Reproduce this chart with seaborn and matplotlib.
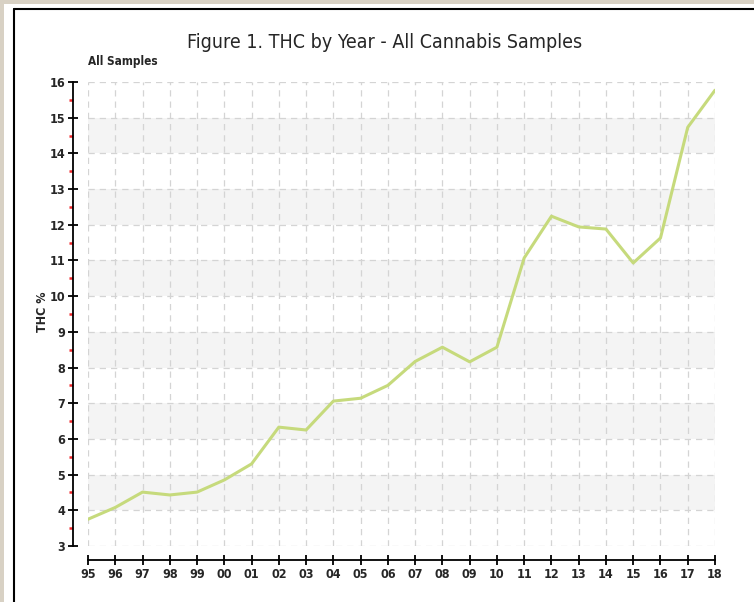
import matplotlib
matplotlib.use("Agg")
import matplotlib.pyplot as plt
from matplotlib.lines import Line2D
from matplotlib.patches import Rectangle
from matplotlib.ticker import MultipleLocator
import pandas as pd
import seaborn as sns

# ---------------------------------------------------------------------------
# Data
# ---------------------------------------------------------------------------
year_labels = ["95", "96", "97", "98", "99", "00", "01", "02", "03", "04", "05", "06",
               "07", "08", "09", "10", "11", "12", "13", "14", "15", "16", "17", "18"]
thc_pct = [3.75, 4.08, 4.51, 4.43, 4.51, 4.85, 5.30, 6.33, 6.25, 7.06, 7.14, 7.50,
           8.17, 8.57, 8.16, 8.57, 11.07, 12.24, 11.94, 11.88, 10.93, 11.63, 14.73, 15.77]
shaded_bands = [4, 6, 8, 10, 12, 14]

TITLE = "Figure 1. THC by Year - All Cannabis Samples"
SUBTITLE = "All Samples"
Y_LABEL = "THC %"

LINE_COLOR = "#c6da7c"

df = pd.DataFrame({"idx": range(len(year_labels)), "thc": thc_pct})

sns.set_style("white")
plt.rcParams["font.family"] = ["DejaVu Sans"]
plt.rcParams["font.stretch"] = "condensed"

fig = plt.figure(figsize=(7.54, 6.02), dpi=100)
W, H = 754, 602
PT = 72 / 100  # points per pixel at dpi 100

# page frame: beige edge, white panel, black border lines
fig.patches.append(Rectangle((0, 0), 1, 1, transform=fig.transFigure,
                             facecolor="#d8d1c4", edgecolor="none", zorder=-10))
fig.patches.append(Rectangle((4 / W, 0), 1, 1 - 4 / H, transform=fig.transFigure,
                             facecolor="white", edgecolor="none", zorder=-9))
fig.add_artist(Line2D([13.5 / W, 13.5 / W], [0, 1 - 8.5 / H], transform=fig.transFigure,
                      color="black", lw=1.5))
fig.add_artist(Line2D([13.5 / W, 1], [1 - 8.5 / H, 1 - 8.5 / H], transform=fig.transFigure,
                      color="black", lw=1.5))

ax = fig.add_axes([88 / W, 1 - 546 / H, (715 - 88) / W, (546 - 82) / H])
ax.set_facecolor("none")

for lo in shaded_bands:
    ax.axhspan(lo, lo + 1, color="#f4f4f4", lw=0, zorder=0)

sns.lineplot(data=df, x="idx", y="thc", ax=ax, color=LINE_COLOR, lw=2.2, zorder=3)

ax.set_xlim(0, len(year_labels) - 1)
ax.set_ylim(3, 16)
ax.set_xticks(range(len(year_labels)))
ax.set_xticklabels(year_labels)
ax.yaxis.set_major_locator(MultipleLocator(1))
ax.yaxis.set_minor_locator(MultipleLocator(0.5))
ax.set_xlabel("")
ax.set_ylabel("")

ax.grid(True, which="major", linestyle=(0, (5, 4)), color="#d4d4d4", lw=0.9, zorder=1)

for side in ["top", "right"]:
    ax.spines[side].set_visible(False)
ax.spines["left"].set_position(("outward", 15 * PT))
ax.spines["bottom"].set_position(("outward", 14 * PT))
for side in ["left", "bottom"]:
    ax.spines[side].set_color("black")
    ax.spines[side].set_linewidth(1.3)

ax.tick_params(axis="both", which="major", direction="inout", length=6.5, width=1.3,
               color="black", labelsize=9, pad=2.5, left=True, bottom=True)
ax.tick_params(axis="y", which="minor", direction="out", length=3, width=1.8,
               color="#f0282c", left=True)
for lab in ax.get_xticklabels() + ax.get_yticklabels():
    lab.set_fontweight("bold")

fig.text(385 / W, 1 - 42 / H, TITLE, ha="center", va="center", fontsize=14)
fig.text(88 / W, 1 - 62 / H, SUBTITLE, ha="left", va="center", fontsize=8.5,
         fontweight="bold")
fig.text(42 / W, 1 - 312 / H, Y_LABEL, ha="center", va="center", fontsize=9,
         fontweight="bold", rotation=90)

fig.savefig("out.png", dpi=100)
